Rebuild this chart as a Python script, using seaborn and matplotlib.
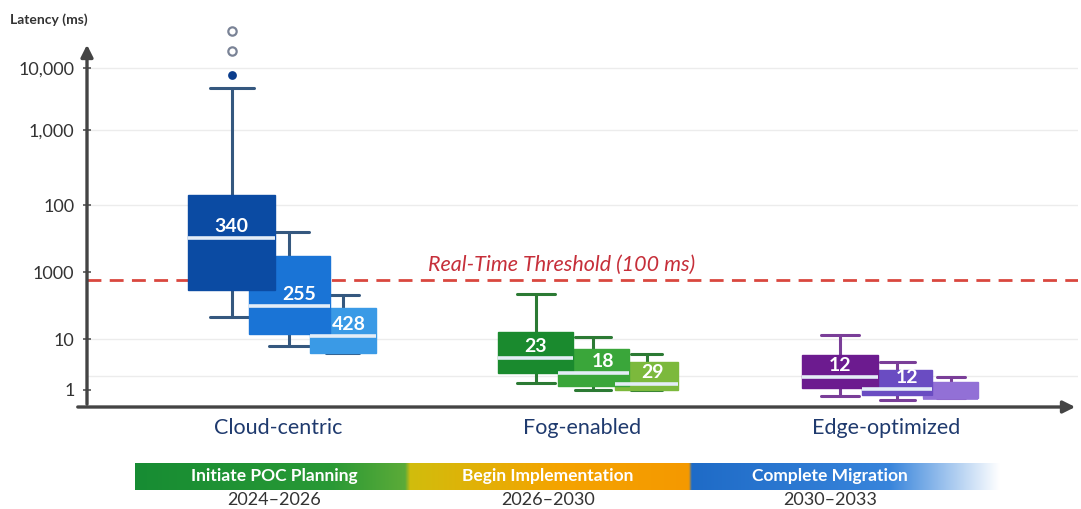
import numpy as np
import pandas as pd
import matplotlib
matplotlib.use("Agg")
import matplotlib.pyplot as plt
import seaborn as sns

# ---------------- data ----------------
categories = ["Cloud-centric", "Fog-enabled", "Edge-optimized"]
tiers = ["Tier 1", "Tier 2", "Tier 3"]

# five-number summaries (whisker low, Q1, median, Q3, whisker high) per tier, ms
cloud_stats = [[14.6, 23.2, 56.8, 136.0, 4760.0],
               [7.3, 10.9, 17.6, 41.6, 62.9],
               [5.3, 5.3, 10.5, 17.0, 21.3]]
fog_stats = [[1.37, 2.15, 4.24, 11.3, 21.7],
             [1.0, 1.2, 2.15, 6.37, 10.35],
             [1.0, 1.0, 1.31, 3.54, 5.08]]
edge_stats = [[0.76, 1.09, 1.80, 4.86, 10.7],
              [0.64, 0.80, 1.05, 2.47, 3.54],
              [0.70, 0.70, 0.71, 1.44, 1.80]]
median_labels = [["340", "255", "428"], ["23", "18", "29"], ["12", "12", ""]]
outliers_filled = [7710.0]
outliers_open = [18800.0, 39500.0]
threshold_value = 27.6
threshold_label = "Real-Time Threshold (100 ms)"
ytick_values = [1, 10, 31.6, 100, 1000, 10000]
ytick_labels = ["1", "10", "1000", "100", "1,000", "10,000"]
grid_values = [1.88, 10, 100, 1000, 10000]
phases = ["Initiate POC Planning", "Begin Implementation", "Complete Migration"]
phase_years = ["2024\u20132026", "2026\u20132030", "2030\u20132033"]

# ---------------- style ----------------
sns.set_theme(style="white")
plt.rcParams["font.family"] = ["Lato", "DejaVu Sans"]

W, H = 1081, 509
fig = plt.figure(figsize=(W / 100, H / 100), dpi=100)
ax_left, ax_right, ax_top, ax_bot = 87, 1078, 22, 407
ax = fig.add_axes([ax_left / W, 1 - ax_bot / H, (ax_right - ax_left) / W, (ax_bot - ax_top) / H])

# irregular (piecewise logarithmic) value axis as drawn in the reference
knot_log = np.array([-2, 0, 1, 1.5, 2, 3, 4, 6], dtype=float)
knot_pos = 407 - np.array([492, 390, 339, 272, 205, 130, 68, -56], dtype=float)


def fwd(v):
    v = np.asarray(v, dtype=float)
    lv = np.log10(np.clip(v, 1e-6, None))
    return np.interp(lv, knot_log, knot_pos)


def inv(p):
    return 10 ** np.interp(np.asarray(p, dtype=float), knot_pos, knot_log)


ax.set_yscale("function", functions=(fwd, inv))

palettes = [["#0b4ba3", "#1a74d6", "#3a9ae6"],
            ["#1a8a2e", "#3aa63a", "#7cb93c"],
            ["#6c1b8f", "#6a4cc2", "#9270d6"]]
whisker_colors = ["#35587f", "#2c7a34", "#7a3e98"]
median_color = "#e4edf7"
offsets = [-0.152, 0.037, 0.213]
widths = [[0.286, 0.266, 0.217], [0.247, 0.234, 0.207], [0.25, 0.23, 0.181]]
label_dx = [0, 7, 4]
stats_all = [cloud_stats, fog_stats, edge_stats]

for ci in range(3):
    for ti in reversed(range(3)):
        vals = stats_all[ci][ti]
        xpos = ci + offsets[ti]
        df = pd.DataFrame({"x": [xpos] * len(vals), "y": vals})
        mcol = median_color if median_labels[ci][ti] else palettes[ci][ti]
        sns.boxplot(data=df, x="x", y="y", native_scale=True, width=widths[ci][ti],
                    whis=np.inf, color=palettes[ci][ti], saturation=1, fill=True,
                    linewidth=2, ax=ax,
                    boxprops=dict(edgecolor=palettes[ci][ti], linewidth=1, zorder=2),
                    whiskerprops=dict(color=whisker_colors[ci], linewidth=2.2, zorder=1.5),
                    capprops=dict(color=whisker_colors[ci], linewidth=2.2, zorder=1.5),
                    medianprops=dict(color=mcol, linewidth=2.6, zorder=2.2))
        lab = median_labels[ci][ti]
        if lab:
            ax.annotate(lab, (xpos, vals[2]), xytext=(label_dx[ti], 8.5),
                        textcoords="offset points", ha="center", va="center",
                        color="white", fontsize=14, fontweight="bold", zorder=5)

# outliers of the cloud tier-1 box
sns.scatterplot(x=[offsets[0]] * len(outliers_filled), y=outliers_filled, ax=ax,
                color="#0b3d8c", s=40, edgecolor="#0b3d8c", linewidth=0, zorder=4)
sns.scatterplot(x=[offsets[0]] * len(outliers_open), y=outliers_open, ax=ax,
                facecolor="white", edgecolor="#7a8396", s=36, linewidth=1.6, zorder=4)

# grid
for g in grid_values:
    ax.axhline(g, color="#ececec", lw=1, zorder=0.5)

# threshold
ax.axhline(threshold_value, color="#d9473f", lw=2, ls=(0, (5, 3)), zorder=1.8)
ax.text(0.934, 35.7, threshold_label, color="#c62f3a", fontsize=15.5, style="italic",
        ha="center", va="center")

# axes
xlim = ((ax_left - 278) / 304, (ax_right - 278) / 304)
ax.set_xlim(*xlim)
ax.set_ylim(inv(407 - ax_bot), inv(407 - ax_top))
for s in ax.spines.values():
    s.set_visible(False)
ax.set_yticks(ytick_values)
ax.set_yticklabels(ytick_labels)
ax.yaxis.set_minor_locator(matplotlib.ticker.NullLocator())
ax.tick_params(axis="y", direction="inout", length=6, width=1.2, color="#555555",
               labelsize=13, labelcolor="#333333", pad=6, left=True)
ax.set_xticks([0, 1, 2])
ax.set_xticklabels(categories)
ax.tick_params(axis="x", length=0, labelsize=15.5, labelcolor="#1f3a6e", pad=8)
ax.set_xlabel("")
ax.set_ylabel("")
ax.grid(False)

# axis arrows
ax.annotate("", xy=(0, (ax_bot - 42) / (ax_bot - ax_top)), xytext=(0, 0),
            xycoords="axes fraction",
            arrowprops=dict(arrowstyle="-|>", color="#444444", lw=2.4, mutation_scale=18))
ax.annotate("", xy=(1.0, 0), xytext=((75 - ax_left) / (ax_right - ax_left), 0),
            xycoords="axes fraction",
            arrowprops=dict(arrowstyle="-|>", color="#444444", lw=2.4, mutation_scale=18))

fig.text(10 / W, 1 - 20 / H, "Latency (ms)", fontsize=10, fontweight="bold",
         color="#333333", ha="left", va="center")

# timeline bar
bx0, bx1, by0, by1 = 135, 1000, 463, 490
bar = fig.add_axes([bx0 / W, 1 - by1 / H, (bx1 - bx0) / W, (by1 - by0) / H])
xs = np.linspace(bx0, bx1, 900)
stops_x = [135, 330, 405, 410, 560, 689, 692, 890, 1000]
stops_c = np.array([[0.09, 0.55, 0.20], [0.16, 0.60, 0.21], [0.36, 0.67, 0.22],
                    [0.82, 0.74, 0.05], [0.96, 0.64, 0.0], [0.96, 0.60, 0.0],
                    [0.12, 0.42, 0.78], [0.22, 0.52, 0.86], [1.0, 1.0, 1.0]])
grad = np.stack([np.interp(xs, stops_x, stops_c[:, k]) for k in range(3)], axis=-1)
bar.imshow(grad[np.newaxis, :, :], aspect="auto", extent=(0, 1, 0, 1))
bar.set_axis_off()

phase_x = [274, 548, 830]
for px, ph, yr in zip(phase_x, phases, phase_years):
    fig.text(px / W, 1 - 476 / H, ph, color="white", fontsize=12.5, fontweight="bold",
             ha="center", va="center")
    fig.text(px / W, 1 - 500 / H, yr, color="#333333", fontsize=13,
             ha="center", va="center")

fig.savefig("out.png", dpi=100)
